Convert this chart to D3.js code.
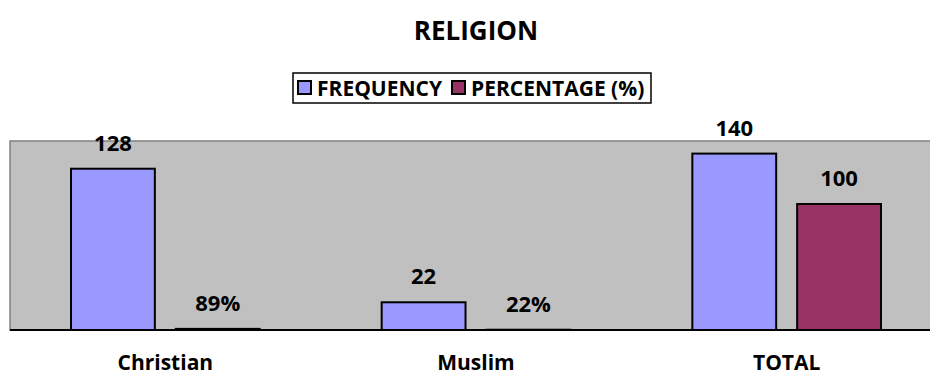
<!DOCTYPE html>
<html>
<head>
<meta charset="UTF-8">
<title>RELIGION</title>
<script src="https://cdn.jsdelivr.net/npm/d3@7"></script>
<style>
body{margin:0;background:#fff;}
text{font-family:"Open Sans",sans-serif;font-weight:bold;fill:#000;}
</style>
</head>
<body>
<div id="chart"></div>
<script>
var w=930,h=377;
var categories=['Christian','Muslim','TOTAL'];
var frequency=[128,22,140];
var percentage=[0.89,0.22,100];
var seriesNames=['FREQUENCY','PERCENTAGE (%)'];
var colors=['#9999ff','#993366'];

var plotLeft=10,plotRight=942,plotTop=141,plotBottom=330;

var svg=d3.select('#chart').append('svg')
  .attr('width',w).attr('height',h);

svg.append('text').attr('x',476).attr('y',40)
  .attr('text-anchor','middle').style('font-size','26px').text('RELIGION');

// plot area
svg.append('rect').attr('x',plotLeft).attr('y',plotTop)
  .attr('width',plotRight-plotLeft).attr('height',plotBottom-plotTop)
  .attr('fill','#c0c0c0').attr('stroke','#808080').attr('stroke-width',1.5);

var x0=d3.scaleBand().domain(categories).range([plotLeft,plotRight]);
var x1=d3.scaleBand().domain([0,1]).range([61,x0.bandwidth()-61]).paddingInner(0.2);
var y=d3.scaleLinear().domain([0,150]).range([plotBottom,plotTop]);

var rows=categories.map(function(c,i){return {cat:c,vals:[frequency[i],percentage[i]]};});
var fmtPct=d3.format('.0%');

var g=svg.selectAll('g.cat').data(rows).enter().append('g')
  .attr('class','cat')
  .attr('transform',function(d){return 'translate('+x0(d.cat)+',0)';});

g.selectAll('rect').data(function(d){return d.vals;}).enter().append('rect')
  .attr('x',function(d,i){return x1(i);})
  .attr('y',function(d){return y(d);})
  .attr('width',x1.bandwidth())
  .attr('height',function(d){return plotBottom-y(d);})
  .attr('fill',function(d,i){return colors[i];})
  .attr('stroke','#000').attr('stroke-width',2);

g.selectAll('text.val').data(function(d){return d.vals;}).enter().append('text')
  .attr('class','val')
  .attr('x',function(d,i){return x1(i)+x1.bandwidth()/2;})
  .attr('y',function(d){return y(d)-18;})
  .attr('text-anchor','middle').style('font-size','22px')
  .text(function(d,i){return (i==1&&d<=1)?fmtPct(d):d;});

svg.append('line').attr('x1',plotLeft).attr('x2',plotRight)
  .attr('y1',plotBottom).attr('y2',plotBottom).attr('stroke','#000').attr('stroke-width',2);

var xAxis=svg.append('g').attr('transform','translate(0,'+plotBottom+')')
  .call(d3.axisBottom(x0).tickSize(0).tickPadding(25));
xAxis.select('.domain').remove();
xAxis.selectAll('text').style('font-size','21px').style('font-family','"Open Sans",sans-serif').attr('fill','#000');

// legend
var leg=svg.append('g');
leg.append('rect').attr('x',293).attr('y',73).attr('width',358).attr('height',30)
  .attr('fill','#fff').attr('stroke','#000').attr('stroke-width',1.5);
var lx=[298,452];
seriesNames.forEach(function(n,i){
  leg.append('rect').attr('x',lx[i]).attr('y',81).attr('width',13).attr('height',13)
    .attr('fill',colors[i]).attr('stroke','#000').attr('stroke-width',2);
  leg.append('text').attr('x',lx[i]+19).attr('y',96).style('font-size','21px').text(n);
});
</script>
</body>
</html>
